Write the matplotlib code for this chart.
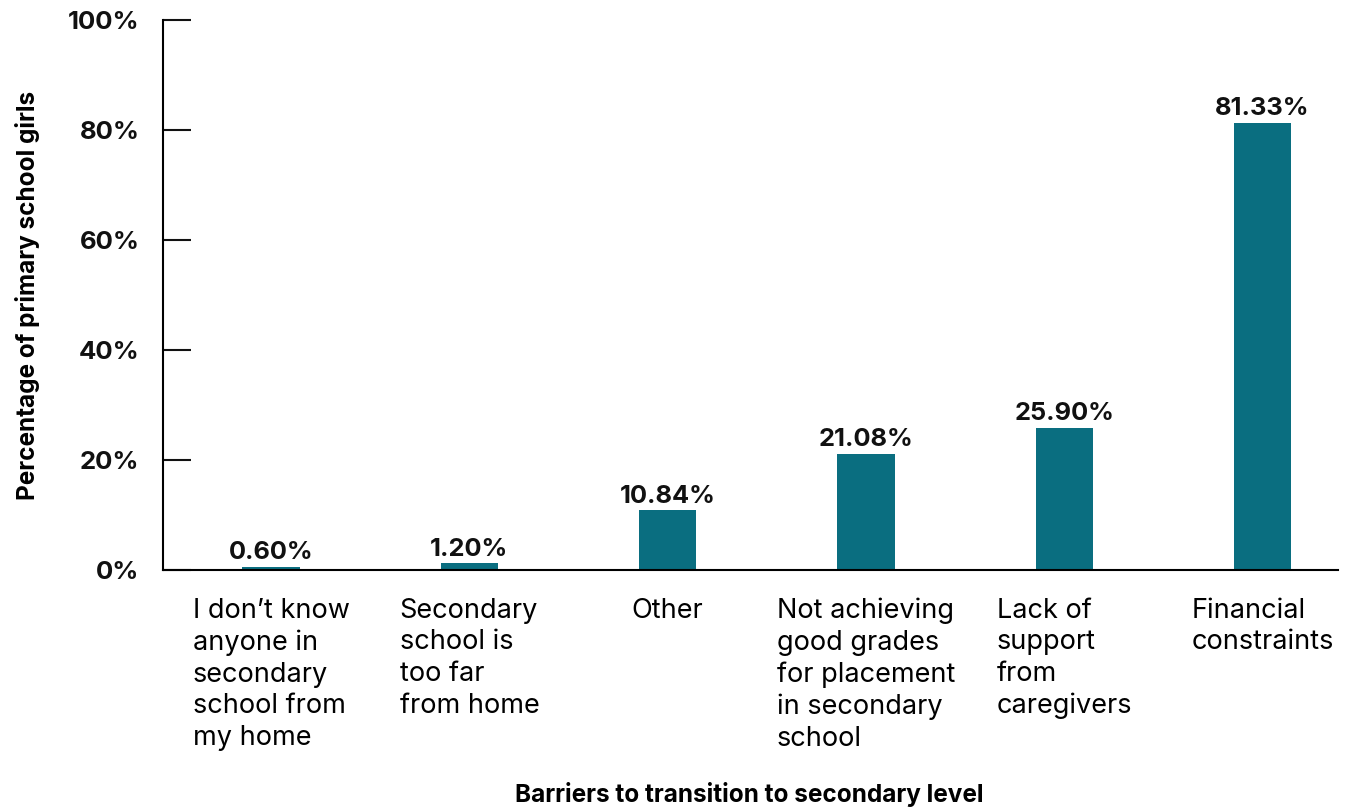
import numpy as np
import matplotlib.pyplot as plt

plt.rcParams['font.family'] = ['Inter', 'DejaVu Sans']

categories = [
    "I don\u2019t know\nanyone in\nsecondary\nschool from\nmy home",
    "Secondary\nschool is\ntoo far\nfrom home",
    "Other",
    "Not achieving\ngood grades\nfor placement\nin secondary\nschool",
    "Lack of\nsupport\nfrom\ncaregivers",
    "Financial\nconstraints",
]
values = [0.60, 1.20, 10.84, 21.08, 25.90, 81.33]
yticks = [0, 20, 40, 60, 80, 100]

fig = plt.figure(figsize=(13.52, 8.07), dpi=100)
ax = fig.add_axes([0.1206, 0.2937, 0.869, 0.6815])

x = np.arange(len(values))
bars = ax.bar(x, values, width=0.29, color='#0a6e80')

# value labels sit just above each bar
for xi, v in zip(x, values):
    ax.text(xi, v + 0.5, f"{v:.2f}%", ha='center', va='bottom',
            fontsize=18.3, fontweight='bold', color='#111111')

ax.set_xlim(-0.545, 5.38)
ax.set_ylim(0, 100)
ax.set_yticks(yticks)
ax.set_yticklabels([f"{t}%" for t in yticks], fontsize=18.5, fontweight='bold')
ax.tick_params(axis='y', direction='in', length=20, width=1.5, pad=17, colors='#111111')
ax.set_xticks(x)
ax.set_xticklabels(categories, fontsize=19.5, ha='center', multialignment='left',
                   linespacing=1.28)
ax.tick_params(axis='x', length=0, pad=20)

for s in ['top', 'right']:
    ax.spines[s].set_visible(False)
ax.spines['left'].set_linewidth(1.5)
ax.spines['bottom'].set_linewidth(1.5)

ax.set_ylabel("Percentage of primary school girls", fontsize=17.5, fontweight='bold', labelpad=20)
fig.text(0.554, 0.006, "Barriers to transition to secondary level", ha='center',
         fontsize=17.5, fontweight='bold')

fig.savefig('out.png', dpi=100)
